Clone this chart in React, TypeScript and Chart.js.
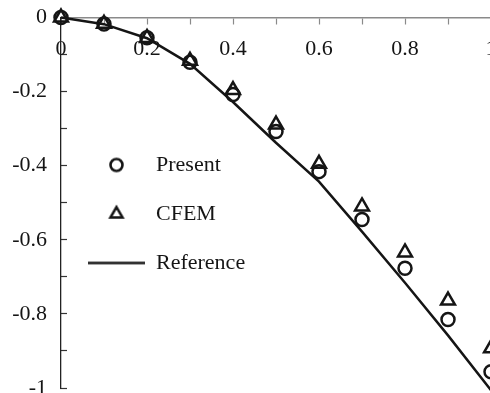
import React, { useEffect, useRef } from 'react';
import { Chart, registerables } from 'chart.js';

Chart.register(...registerables);

// ---- data ----
const xValues = [0, 0.1, 0.2, 0.3, 0.4, 0.5, 0.6, 0.7, 0.8, 0.9, 1.0];
const presentValues = [0, -0.0175, -0.0545, -0.121, -0.208, -0.308, -0.416, -0.545, -0.677, -0.815, -0.956];
const cfemValues = [0, -0.017, -0.055, -0.117, -0.196, -0.289, -0.395, -0.51, -0.634, -0.764, -0.893];
const referenceValues = [0, -0.018, -0.056, -0.125, -0.228, -0.338, -0.443, -0.578, -0.716, -0.858, -1.006];
const seriesNames = ['Present', 'CFEM', 'Reference'];
const xTickLabels = ['0', '0.2', '0.4', '0.6', '0.8', '1'];
const yTickLabels = ['0', '-0.2', '-0.4', '-0.6', '-0.8', '-1'];

const INK = '#151515';
const FONT = "'Liberation Serif', 'Times New Roman', serif";

function makeCircle(r: number, lw: number) {
  const c = document.createElement('canvas');
  const s = Math.ceil(2 * r + lw + 4);
  c.width = s; c.height = s;
  const g = c.getContext('2d')!;
  g.strokeStyle = INK; g.lineWidth = lw;
  g.beginPath(); g.arc(s / 2, s / 2, r, 0, Math.PI * 2); g.stroke();
  return c;
}
function makeTriangle(r: number, lw: number) {
  const c = document.createElement('canvas');
  const s = Math.ceil(2 * r + 3 * lw + 4);
  c.width = s; c.height = s;
  const g = c.getContext('2d')!;
  g.strokeStyle = INK; g.lineWidth = lw; g.lineJoin = 'miter';
  const cx = s / 2, cy = s / 2;
  g.beginPath();
  for (let i = 0; i < 3; i++) {
    const a = (i * 2 * Math.PI) / 3;
    const px = cx + Math.sin(a) * r, py = cy - Math.cos(a) * r;
    if (i === 0) g.moveTo(px, py); else g.lineTo(px, py);
  }
  g.closePath(); g.stroke();
  return c;
}
function makeLine(w: number, lw: number) {
  const c = document.createElement('canvas');
  c.width = w; c.height = Math.ceil(lw) + 2;
  const g = c.getContext('2d')!;
  g.fillStyle = INK;
  g.fillRect(0, (c.height - lw) / 2, w, lw);
  return c;
}

export default function App() {
  const ref = useRef<HTMLCanvasElement | null>(null);

  useEffect(() => {
    if (!ref.current) return;
    Chart.defaults.font.family = FONT;
    Chart.defaults.font.size = 22;
    Chart.defaults.color = INK;

    const legendIcons = [makeCircle(6, 2.6), makeTriangle(7, 2.5), makeLine(57, 2.5)];

    const chart = new Chart(ref.current, {
      type: 'scatter',
      data: {
        datasets: [
          {
            label: seriesNames[0],
            data: xValues.map((x, i) => ({ x, y: presentValues[i] })),
            pointStyle: 'circle',
            pointRadius: 6.5,
            pointBorderWidth: 2.5,
            pointBorderColor: INK,
            pointBackgroundColor: 'rgba(0,0,0,0)',
            borderColor: INK,
            backgroundColor: 'rgba(0,0,0,0)',
            showLine: false,
            clip: false,
          },
          {
            label: seriesNames[1],
            data: xValues.map((x, i) => ({ x, y: cfemValues[i] })),
            pointStyle: 'triangle',
            pointRadius: 8,
            pointBorderWidth: 2.5,
            pointBorderColor: INK,
            pointBackgroundColor: 'rgba(0,0,0,0)',
            borderColor: INK,
            backgroundColor: 'rgba(0,0,0,0)',
            showLine: false,
            clip: false,
          },
          {
            label: seriesNames[2],
            data: xValues.map((x, i) => ({ x, y: referenceValues[i] })),
            showLine: true,
            borderColor: INK,
            borderWidth: 2.5,
            pointRadius: 0,
            tension: 0,
            clip: false,
          },
        ],
      },
      options: {
        responsive: false,
        animation: false,
        devicePixelRatio: 1,
        events: [],
        layout: { padding: { left: 0, top: 17.5, right: 11, bottom: 11 } },
        plugins: {
          tooltip: { enabled: false },
          legend: {
            position: 'chartArea',
            align: 'start',
            title: { display: true, text: '', font: { size: 10, lineHeight: 1 }, padding: { top: 117, bottom: 0 } },
            labels: {
              usePointStyle: true,
              pointStyleWidth: 57,
              padding: 27,
              color: INK,
              font: { family: FONT, size: 22 },
              generateLabels: (ch: any) => {
                const items = Chart.defaults.plugins.legend.labels.generateLabels(ch);
                return items.map((it: any, i: number) => ({ ...it, pointStyle: legendIcons[i], lineWidth: 0 }));
              },
            },
          },
        },
        scales: {
          x: {
            type: 'linear',
            position: { y: 0 } as any,
            min: 0,
            max: 1,
            ticks: {
              stepSize: 0.1,
              autoSkip: false,
              maxRotation: 0,
              padding: 13,
              color: INK,
              font: { family: FONT, size: 22 },
              callback: (v: any) => {
                const k = Math.round(Number(v) * 10);
                return k % 2 === 0 ? xTickLabels[k / 2] : '';
              },
            },
            grid: { drawOnChartArea: false, drawTicks: true, tickLength: 6, tickColor: '#8a8a8a', tickWidth: 1.2 },
            border: { display: true, color: '#8a8a8a', width: 1.5 },
            afterFit: (s: any) => { s.paddingLeft = 0; s.paddingRight = 0; s.paddingTop = 0; s.paddingBottom = 0; },
          },
          y: {
            type: 'linear',
            position: 'left',
            min: -1,
            max: 0,
            ticks: {
              stepSize: 0.1,
              autoSkip: false,
              padding: 20,
              color: INK,
              font: { family: FONT, size: 22 },
              callback: (v: any) => {
                const k = Math.round(-Number(v) * 10);
                return k % 2 === 0 ? yTickLabels[k / 2] : '';
              },
            },
            grid: { drawOnChartArea: false, drawTicks: true, tickLength: -6, tickColor: '#333', tickWidth: 1.2 },
            border: { display: true, color: '#222', width: 1.3 },
            afterFit: (s: any) => { s.width = 61; s.paddingTop = 0; s.paddingBottom = 0; s.paddingLeft = 0; s.paddingRight = 0; },
          },
        },
      } as any,
    });
    return () => chart.destroy();
  }, []);

  return (
    <div style={{ position: 'fixed', left: 0, top: 0, width: 490, height: 393, overflow: 'hidden', background: '#fff' }}>
      <canvas ref={ref} width={502} height={399} style={{ display: 'block', width: 502, height: 399 }} />
    </div>
  );
}
